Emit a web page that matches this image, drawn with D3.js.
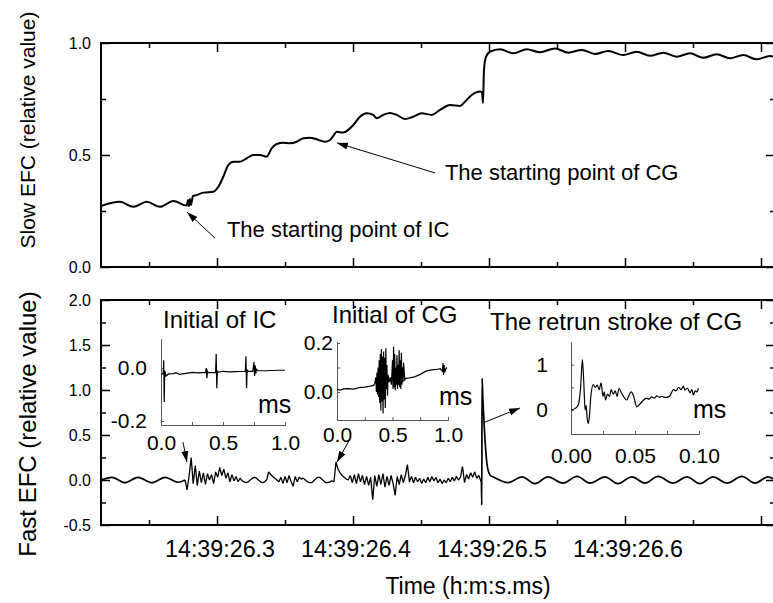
<!DOCTYPE html>
<html>
<head>
<meta charset="utf-8">
<script src="https://cdn.jsdelivr.net/npm/d3@7/dist/d3.min.js"></script>
<style>
  body { margin: 0; background: #fff; }
  svg { display: block; font-family: "Liberation Sans", Arial, sans-serif; }
</style>
</head>
<body>
<div id="chart"></div>
<script>
// all times in ms after 14:39:26
var xMajor = [300, 400, 500, 600, 700];
var xLabels = ["14:39:26.3", "14:39:26.4", "14:39:26.5", "14:39:26.6", ""];
var xMinor = [250, 350, 450, 550, 650];

var slowMajor = [0, 0.5, 1.0];
var slowMinor = [0.25, 0.75];
var fastMajor = [-0.5, 0, 0.5, 1.0, 1.5, 2.0];
var fastMinor = [-0.25, 0.25, 0.75, 1.25, 1.75];

// slow antenna
var slowT = [214.7, 228.7, 238.5, 248.3, 258.1, 267.9, 277.7, 278.7, 279.4, 280.1, 280.9, 282.3,
  285.1, 289.9, 297.3, 301.0, 304.6, 308.3, 312.0, 316.9, 321.8, 326.7, 331.6, 336.5, 340.2,
  343.9, 348.7, 353.7, 358.6, 363.5, 368.4, 373.3, 379.4, 383.1, 385.5, 388.0, 392.9, 396.5,
  400.2, 405.1, 410.1, 414.9, 417.4, 422.3, 427.2, 432.1, 438.2, 444.3, 450.5, 457.9, 464.0,
  471.3, 478.7, 482.3, 487.3, 493.4, 494.8, 495.6, 496.3, 497.8, 500.7, 508.1, 517.9, 527.7,
  537.5, 548.5, 558.3, 568.2, 577.9, 587.7, 598.7, 608.6, 618.4, 628.2, 638.0, 647.8, 657.6,
  667.4, 677.2, 687.0, 696.8, 706.6, 710.3];
var slowV = [0.272, 0.291, 0.269, 0.291, 0.269, 0.295, 0.274, 0.299, 0.272, 0.304, 0.277, 0.317,
  0.321, 0.332, 0.336, 0.358, 0.403, 0.455, 0.470, 0.470, 0.485, 0.500, 0.500, 0.492, 0.530,
  0.549, 0.555, 0.552, 0.559, 0.575, 0.577, 0.570, 0.559, 0.567, 0.585, 0.604, 0.600, 0.612,
  0.634, 0.671, 0.686, 0.679, 0.664, 0.679, 0.688, 0.679, 0.661, 0.671, 0.686, 0.679, 0.701,
  0.723, 0.719, 0.738, 0.768, 0.783, 0.781, 0.732, 0.879, 0.938, 0.961, 0.972, 0.954, 0.972,
  0.959, 0.976, 0.957, 0.969, 0.951, 0.964, 0.946, 0.961, 0.943, 0.957, 0.939, 0.954, 0.934,
  0.950, 0.932, 0.946, 0.927, 0.942, 0.938];

// fast antenna: hum before the IC, sampled burst, return stroke and hum after
var fastPreT = [214.7, 222.8, 232.3, 241.9, 252.2, 261.8, 271.3, 276.5];
var fastPreV = [0.0, 0.03, -0.03, 0.03, -0.03, 0.03, -0.025, 0.0];

var burstStart = 278, burstStep = 1.5;
var burstV = [-0.11, 0.05, 0.25, -0.04, 0.16, -0.06, 0.10, -0.03, 0.08, -0.05,
  0.07, 0.00, 0.06, -0.04, 0.09, 0.03, 0.14, 0.05, 0.12, 0.02,
  0.08, -0.02, 0.06, -0.01, 0.04, -0.02, 0.02, -0.01, -0.02, -0.03,
  -0.02, 0.00, 0.02, 0.03, 0.02, 0.00, -0.02, -0.03, -0.02, 0.00,
  0.09, 0.06, 0.04, 0.02, 0.00, -0.02, 0.03, -0.04, 0.04, -0.03,
  0.05, -0.02, -0.07, 0.04, -0.02, 0.03, 0.01, 0.02, 0.00, -0.02,
  -0.03, -0.03, -0.01, 0.01, 0.03, 0.03, 0.01, -0.01, -0.03, -0.03,
  -0.02, -0.01, -0.02, 0.20, 0.12, 0.08, 0.05, 0.03, 0.01, 0.00,
  0.05, -0.03, 0.06, -0.04, 0.07, -0.02, 0.05, -0.05, 0.04, -0.06,
  0.03, -0.22, 0.05, -0.07, 0.06, -0.05, 0.07, -0.08, 0.04, -0.06,
  0.05, -0.04, -0.17, 0.04, -0.05, 0.06, -0.03, 0.05, 0.17, -0.02,
  0.04, -0.03, 0.03, -0.02, 0.02, -0.04, 0.01, -0.03, 0.03, -0.02,
  0.04, -0.01, 0.03, -0.03, 0.01, -0.04, 0.00, -0.03, 0.02, -0.02,
  0.03, -0.01, 0.04, 0.00, 0.03, 0.15, -0.03, 0.06, 0.01, 0.08,
  0.03, 0.09, 0.02, 0.05, -0.01];

var fastPostT = [494.4, 494.7, 494.9, 495.5, 496.5, 497.5, 498.5, 499.5, 501.0, 502.9, 514.0,
  524.3, 533.8, 543.4, 554.4, 564.7, 574.3, 585.3, 594.8, 605.1, 614.7, 624.3, 635.3, 645.6,
  655.1, 664.7, 675.0, 686.0, 695.6, 705.1, 710.3];
var fastPostV = [-0.02, -0.28, 1.13, 0.9, 0.6, 0.35, 0.18, 0.1, 0.05, 0.035, -0.03,
  0.035, -0.04, 0.035, -0.035, 0.04, -0.035, 0.035, -0.04, 0.035, -0.035, 0.04, -0.035, 0.035,
  -0.04, 0.035, -0.035, 0.04, -0.035, 0.035, 0.0];

// insets (ms after the event start)
var icT = [0, 0.01, 0.018, 0.022, 0.026, 0.03, 0.04, 0.06, 0.1, 0.12, 0.15, 0.2, 0.25, 0.3, 0.36,
  0.365, 0.37, 0.375, 0.38, 0.44, 0.445, 0.45, 0.455, 0.46, 0.5, 0.55, 0.6, 0.68, 0.685, 0.69,
  0.695, 0.7, 0.74, 0.75, 0.755, 0.76, 0.765, 0.77, 0.78, 0.85, 0.9, 0.95, 1.0];
var icV = [-0.024, -0.022, -0.02, 0.03, -0.128, -0.01, -0.03, -0.022, -0.021, -0.017, -0.024,
  -0.02, -0.016, -0.018, -0.016, 0.0, -0.038, -0.012, -0.017, -0.016, 0.053, -0.076, -0.01,
  -0.016, -0.012, -0.014, -0.013, -0.012, 0.045, -0.076, -0.005, -0.012, -0.012, 0.023, -0.03,
  0.01, -0.02, -0.005, -0.01, -0.01, -0.009, -0.008, -0.008];

var cgT = [0, 0.03, 0.06, 0.1, 0.15, 0.2, 0.25, 0.3, 0.33, 0.34, 0.35, 0.355, 0.36, 0.365, 0.37,
  0.375, 0.38, 0.385, 0.39, 0.395, 0.40, 0.405, 0.41, 0.415, 0.42, 0.425, 0.43, 0.435, 0.44,
  0.445, 0.45, 0.455, 0.46, 0.47, 0.48, 0.49, 0.50, 0.505, 0.51, 0.515, 0.52, 0.525, 0.53,
  0.535, 0.54, 0.545, 0.55, 0.555, 0.56, 0.565, 0.57, 0.575, 0.58, 0.585, 0.59, 0.595, 0.60,
  0.61, 0.62, 0.65, 0.7, 0.75, 0.8, 0.85, 0.9, 0.93, 0.95, 0.955, 0.96, 0.965, 0.97, 0.98, 0.99];
var cgV = [0.011, 0.008, 0.013, 0.014, 0.012, 0.018, 0.02, 0.024, 0.027, 0.035, 0.06, 0.0, 0.08,
  -0.01, 0.1, -0.02, 0.13, -0.045, 0.155, -0.075, 0.175, -0.04, 0.145, -0.087, 0.165, -0.03,
  0.14, -0.065, 0.178, 0.012, 0.11, -0.015, 0.07, 0.04, 0.06, 0.03, 0.13, 0.012, 0.185, 0.02,
  0.155, 0.007, 0.1, 0.03, 0.15, 0.012, 0.11, 0.03, 0.17, 0.02, 0.13, 0.012, 0.16, 0.03, 0.1,
  0.04, 0.12, 0.05, 0.056, 0.058, 0.062, 0.072, 0.085, 0.09, 0.092, 0.095, 0.085, 0.118, 0.07,
  0.11, 0.08, 0.095, 0.1];

var rsT = [0, 0.003, 0.0057, 0.0075, 0.0089, 0.010, 0.011, 0.0118, 0.0127, 0.0135, 0.0145, 0.0155,
  0.0174, 0.019, 0.0205, 0.022, 0.0235, 0.025, 0.026, 0.027, 0.0285, 0.030, 0.0315, 0.033,
  0.0345, 0.036, 0.0375, 0.039, 0.041, 0.0435, 0.045, 0.047, 0.049, 0.0513, 0.0535, 0.056,
  0.059, 0.061, 0.063, 0.065, 0.067, 0.069, 0.071, 0.073, 0.0747, 0.077, 0.08, 0.082, 0.084,
  0.086, 0.0878, 0.089, 0.091, 0.093, 0.0945, 0.0956, 0.097, 0.0985, 0.0995];
var rsV = [0.0, 0.03, 0.11, 0.5, 1.11, 0.6, 0.0, 0.1, -0.2, -0.3, -0.1, 0.3,
  0.56, 0.5, 0.55, 0.45, 0.6, 0.3, 0.4, 0.22, 0.35, 0.3, 0.45, 0.35,
  0.42, 0.3, 0.48, 0.4, 0.3, 0.22, 0.3, 0.4, 0.3, 0.07, 0.12, 0.2,
  0.26, 0.24, 0.29, 0.26, 0.31, 0.28, 0.3, 0.28, 0.28, 0.3, 0.45, 0.42, 0.5,
  0.45, 0.52, 0.44, 0.48, 0.38, 0.45, 0.33, 0.42, 0.4, 0.48];

(function() {
  var svg, x, ySlow, yFast, prePts, burstPts, postPts, zip, fastLine;

  svg = d3.select("#chart").append("svg").attr("width", 773).attr("height", 603);

  x = d3.scaleLinear().domain([214.7, 710.3]).range([101, 775]);
  ySlow = d3.scaleLinear().domain([0, 1]).range([267, 43]);
  yFast = d3.scaleLinear().domain([-0.5, 2]).range([525, 300]);

  svg.append("defs").append("marker")
    .attr("id", "head").attr("markerUnits", "userSpaceOnUse")
    .attr("markerWidth", 11).attr("markerHeight", 8).attr("refX", 11).attr("refY", 4)
    .attr("orient", "auto")
    .append("path").attr("d", "M0,0.5L11,4L0,7.5Z").attr("fill", "#000");

  zip = function(ts, vs) {
    return ts.map(function(t, i) { return {t: t, v: vs[i]}; });
  };

  var drawPanel = function(y, major, minor, top, bottom, withLabels) {
    var g = svg.append("g"), fmt = function(d) { return d.toFixed(1); };
    [[xMajor, 9], [xMinor, 5]].forEach(function(p) {
      g.append("g").attr("transform", "translate(0," + bottom + ")")
        .call(d3.axisBottom(x).tickValues(p[0]).tickSize(-p[1]).tickFormat(""));
      g.append("g").attr("transform", "translate(0," + top + ")")
        .call(d3.axisTop(x).tickValues(p[0]).tickSize(-p[1]).tickFormat(""));
    });
    g.append("g").attr("transform", "translate(101,0)")
      .call(d3.axisLeft(y).tickValues(major).tickSize(-9).tickPadding(10).tickFormat(fmt))
      .attr("font-size", 16).attr("font-family", null);
    g.append("g").attr("transform", "translate(101,0)")
      .call(d3.axisLeft(y).tickValues(minor).tickSize(-5).tickFormat(""));
    g.append("g").attr("transform", "translate(775,0)")
      .call(d3.axisRight(y).tickValues(major).tickSize(-9).tickFormat(""));
    g.append("g").attr("transform", "translate(775,0)")
      .call(d3.axisRight(y).tickValues(minor).tickSize(-5).tickFormat(""));
    g.selectAll(".domain").remove();
    g.selectAll(".tick line").attr("stroke-width", 1.5);
    g.selectAll(".tick text").attr("fill", "#000");
    g.append("rect").attr("x", 101).attr("y", top).attr("width", 674).attr("height", bottom - top)
      .attr("fill", "none").attr("stroke", "#000").attr("stroke-width", 2);
    if (withLabels) {
      g.selectAll(".xlab").data(xMajor).enter().append("text")
        .attr("x", function(d) { return x(d) + 3; }).attr("y", bottom + 32)
        .attr("text-anchor", "middle").attr("font-size", 23)
        .attr("textLength", function(d, i) { return xLabels[i] ? 110 : 0; })
        .attr("lengthAdjust", "spacingAndGlyphs")
        .text(function(d, i) { return xLabels[i]; });
    }
  };

  drawPanel(ySlow, slowMajor, slowMinor, 43, 267, false);
  drawPanel(yFast, fastMajor, fastMinor, 300, 525, true);

  svg.append("clipPath").attr("id", "clipTop").append("rect")
    .attr("x", 101).attr("y", 43).attr("width", 674).attr("height", 224);
  svg.append("clipPath").attr("id", "clipBot").append("rect")
    .attr("x", 101).attr("y", 300).attr("width", 674).attr("height", 225);

  svg.append("path").datum(zip(slowT, slowV)).attr("clip-path", "url(#clipTop)")
    .attr("d", d3.line().curve(d3.curveMonotoneX)
      .x(function(d) { return x(d.t); }).y(function(d) { return ySlow(d.v); }))
    .attr("fill", "none").attr("stroke", "#000").attr("stroke-width", 2);

  // smooth hum drawn with a monotone curve, the noisy burst joined straight
  prePts = zip(fastPreT, fastPreV);
  postPts = zip(fastPostT, fastPostV);
  burstPts = burstV.map(function(v, i) { return {t: burstStart + i * burstStep, v: v}; });
  fastLine = function(curve) {
    return d3.line().curve(curve).x(function(d) { return x(d.t); }).y(function(d) { return yFast(d.v); });
  };
  [prePts, postPts].forEach(function(pts) {
    svg.append("path").datum(pts).attr("clip-path", "url(#clipBot)")
      .attr("d", fastLine(d3.curveMonotoneX))
      .attr("fill", "none").attr("stroke", "#000").attr("stroke-width", 1.7);
  });
  svg.append("path").datum([prePts[prePts.length - 1]].concat(burstPts, [postPts[0]]))
    .attr("clip-path", "url(#clipBot)")
    .attr("d", fastLine(d3.curveLinear))
    .attr("fill", "none").attr("stroke", "#000").attr("stroke-width", 1.3)
    .attr("stroke-linejoin", "bevel");

  // axis titles
  svg.append("text").attr("transform", "translate(35,130) rotate(-90)")
    .attr("text-anchor", "middle").attr("font-size", 21).text("Slow EFC (relative value)");
  svg.append("text").attr("transform", "translate(36,424) rotate(-90)")
    .attr("text-anchor", "middle").attr("font-size", 24).text("Fast EFC (relative value)");
  svg.append("text").attr("x", 468).attr("y", 594).attr("text-anchor", "middle")
    .attr("font-size", 23).text("Time (h:m:s.ms)");

  // annotations in data coordinates
  var topNotes = [
    {text: "The starting point of IC", t: 307.3, v: 0.134, from: [298.5, 0.129], to: [277.9, 0.2455]},
    {text: "The starting point of CG", t: 467.6, v: 0.388, from: [460.3, 0.42], to: [388.2, 0.554]}
  ];
  topNotes.forEach(function(n) {
    svg.append("text").attr("x", x(n.t)).attr("y", ySlow(n.v)).attr("font-size", 22).text(n.text);
    svg.append("line").attr("x1", x(n.from[0])).attr("y1", ySlow(n.from[1]))
      .attr("x2", x(n.to[0])).attr("y2", ySlow(n.to[1]))
      .attr("stroke", "#000").attr("stroke-width", 1).attr("marker-end", "url(#head)");
  });
  var botArrows = [
    {from: [275.0, 0.42], to: [277.9, 0.2]},
    {from: [397.8, 0.456], to: [388.2, 0.2]},
    {from: [497.1, 0.644], to: [522.8, 0.8]}
  ];
  botArrows.forEach(function(n) {
    svg.append("line").attr("x1", x(n.from[0])).attr("y1", yFast(n.from[1]))
      .attr("x2", x(n.to[0])).attr("y2", yFast(n.to[1]))
      .attr("stroke", "#000").attr("stroke-width", 1).attr("marker-end", "url(#head)");
  });

  // insets
  var insets = [
    {title: "Initial of IC", t: icT, v: icV, xd: [0, 1], yd: [-0.215, 0.11], box: [161, 285, 339, 425],
      xt: [0, 0.5, 1], xm: [0.25, 0.75], xf: 1, yt: [-0.2, 0], ym: [], yf: 1, ypad: 14, xpad: 10,
      titleAt: [163, 328], msAt: [258, 413], curve: d3.curveLinear},
    {title: "Initial of CG", t: cgT, v: cgV, xd: [0, 1], yd: [-0.114, 0.204], box: [337, 448, 342, 420],
      xt: [0, 0.5, 1], xm: [0.25, 0.75], xf: 1, yt: [0, 0.2], ym: [0.1], yf: 1, ypad: 4, xpad: 7,
      titleAt: [332, 323], msAt: [439, 405], curve: d3.curveLinear},
    {title: "The retrun stroke of CG", t: rsT, v: rsV, xd: [0, 0.1], yd: [-0.53, 1.5], box: [571, 699, 342, 434],
      xt: [0, 0.05, 0.1], xm: [0.025, 0.075], xf: 2, yt: [0, 1], ym: [0.5], yf: 0, ypad: 23, xpad: 14,
      titleAt: [490, 330], msAt: [693, 418], curve: d3.curveMonotoneX}
  ];
  insets.forEach(function(s) {
    var ix = d3.scaleLinear().domain(s.xd).range([s.box[0], s.box[1]]);
    var iy = d3.scaleLinear().domain(s.yd).range([s.box[3], s.box[2]]);
    var g = svg.append("g");
    g.append("g").attr("transform", "translate(0," + s.box[3] + ")")
      .call(d3.axisBottom(ix).tickValues(s.xt).tickSizeInner(-3).tickSizeOuter(0).tickPadding(s.xpad)
        .tickFormat(function(d) { return d.toFixed(s.xf); }))
      .attr("font-size", 21).attr("font-family", null);
    g.append("g").attr("transform", "translate(0," + s.box[3] + ")")
      .call(d3.axisBottom(ix).tickValues(s.xm).tickSizeInner(-3).tickSizeOuter(0).tickFormat(""));
    g.append("g").attr("transform", "translate(" + s.box[0] + ",0)")
      .call(d3.axisLeft(iy).tickValues(s.yt).tickSizeInner(-3).tickSizeOuter(0).tickPadding(s.ypad)
        .tickFormat(function(d) { return d.toFixed(s.yf); }))
      .attr("font-size", 21).attr("font-family", null);
    g.append("g").attr("transform", "translate(" + s.box[0] + ",0)")
      .call(d3.axisLeft(iy).tickValues(s.ym).tickSizeInner(-3).tickSizeOuter(0).tickFormat(""));
    g.selectAll(".domain, .tick line").attr("stroke", "#555");
    g.selectAll(".tick text").attr("fill", "#000");
    g.append("path").datum(zip(s.t, s.v))
      .attr("d", d3.line().curve(s.curve).x(function(d) { return ix(d.t); }).y(function(d) { return iy(d.v); }))
      .attr("fill", "none").attr("stroke", "#000").attr("stroke-width", 1.2);
    g.append("text").attr("x", s.titleAt[0]).attr("y", s.titleAt[1]).attr("font-size", 24).text(s.title);
    g.append("text").attr("x", s.msAt[0]).attr("y", s.msAt[1]).attr("font-size", 25).text("ms");
  });
}).call(this);
</script>
</body>
</html>
